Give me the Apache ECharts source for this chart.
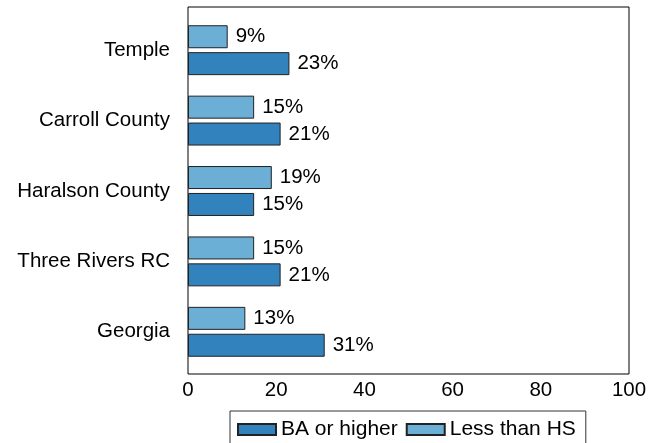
<!DOCTYPE html>
<html>
<head>
<meta charset="utf-8">
<script src="https://cdn.jsdelivr.net/npm/echarts@6/dist/echarts.min.js"></script>
<style>
  html, body { margin: 0; padding: 0; background: #fff; }
  #container { width: 659px; height: 443px; }
</style>
</head>
<body>
<div id="container"></div>
<script>
// categories listed bottom to top (category axis grows upward)
var places = ['Georgia', 'Three Rivers RC', 'Haralson County', 'Carroll County', 'Temple'];
var baOrHigher = [31, 21, 15, 21, 23];
var lessThanHS = [13, 15, 19, 15, 9];
var xTicks = [0, 20, 40, 60, 80, 100];

var dom = document.getElementById('container');
var myChart = echarts.init(dom);
var font = 'Liberation Sans';

var labelCfg = {
  show: true,
  position: 'right',
  distance: 8,
  formatter: '{c}%',
  color: '#000',
  fontSize: 20.5,
  fontFamily: font
};

var option = {
  animation: false,
  textStyle: { fontFamily: font },
  grid: [
    // outer frame + x labels
    { left: 188, right: 30, top: 7, bottom: 69, show: true, borderColor: '#000', borderWidth: 1, backgroundColor: 'transparent' },
    // bars, with a little padding inside the frame
    { left: 188, right: 30, top: 15, bottom: 76 }
  ],
  xAxis: [{
    gridIndex: 0,
    type: 'value',
    min: xTicks[0],
    max: xTicks[xTicks.length - 1],
    interval: 20,
    axisLine: { show: false },
    axisTick: { show: false },
    splitLine: { show: false },
    axisLabel: { color: '#000', fontSize: 20.5, fontFamily: font, margin: 6 }
  }, {
    gridIndex: 1,
    type: 'value',
    min: 0,
    max: 100,
    show: false
  }],
  yAxis: [{
    gridIndex: 0,
    type: 'value',
    show: false
  }, {
    gridIndex: 1,
    type: 'category',
    data: places,
    axisLine: { show: false },
    axisTick: { show: false },
    axisLabel: { color: '#000', fontSize: 20.5, fontFamily: font, margin: 18 }
  }],
  legend: {
    data: ['BA or higher', 'Less than HS'],
    left: 230,
    top: 411,
    padding: [8, 10, 8, 7],
    itemGap: 8,
    itemWidth: 38,
    itemHeight: 11,
    icon: 'rect',
    borderColor: '#333',
    borderWidth: 1,
    borderRadius: 0,
    textStyle: { color: '#000', fontSize: 21, fontFamily: font }
  },
  series: [{
    name: 'Less than HS',
    type: 'bar',
    xAxisIndex: 1,
    yAxisIndex: 1,
    data: lessThanHS,
    barWidth: 23,
    barGap: '17%',
    itemStyle: { color: '#6baed6', borderColor: '#222', borderWidth: 1 },
    label: labelCfg
  }, {
    name: 'BA or higher',
    type: 'bar',
    xAxisIndex: 1,
    yAxisIndex: 1,
    data: baOrHigher,
    barWidth: 23,
    barGap: '17%',
    itemStyle: { color: '#3182bd', borderColor: '#222', borderWidth: 1 },
    label: labelCfg
  }]
};

myChart.setOption(option);
</script>
</body>
</html>
